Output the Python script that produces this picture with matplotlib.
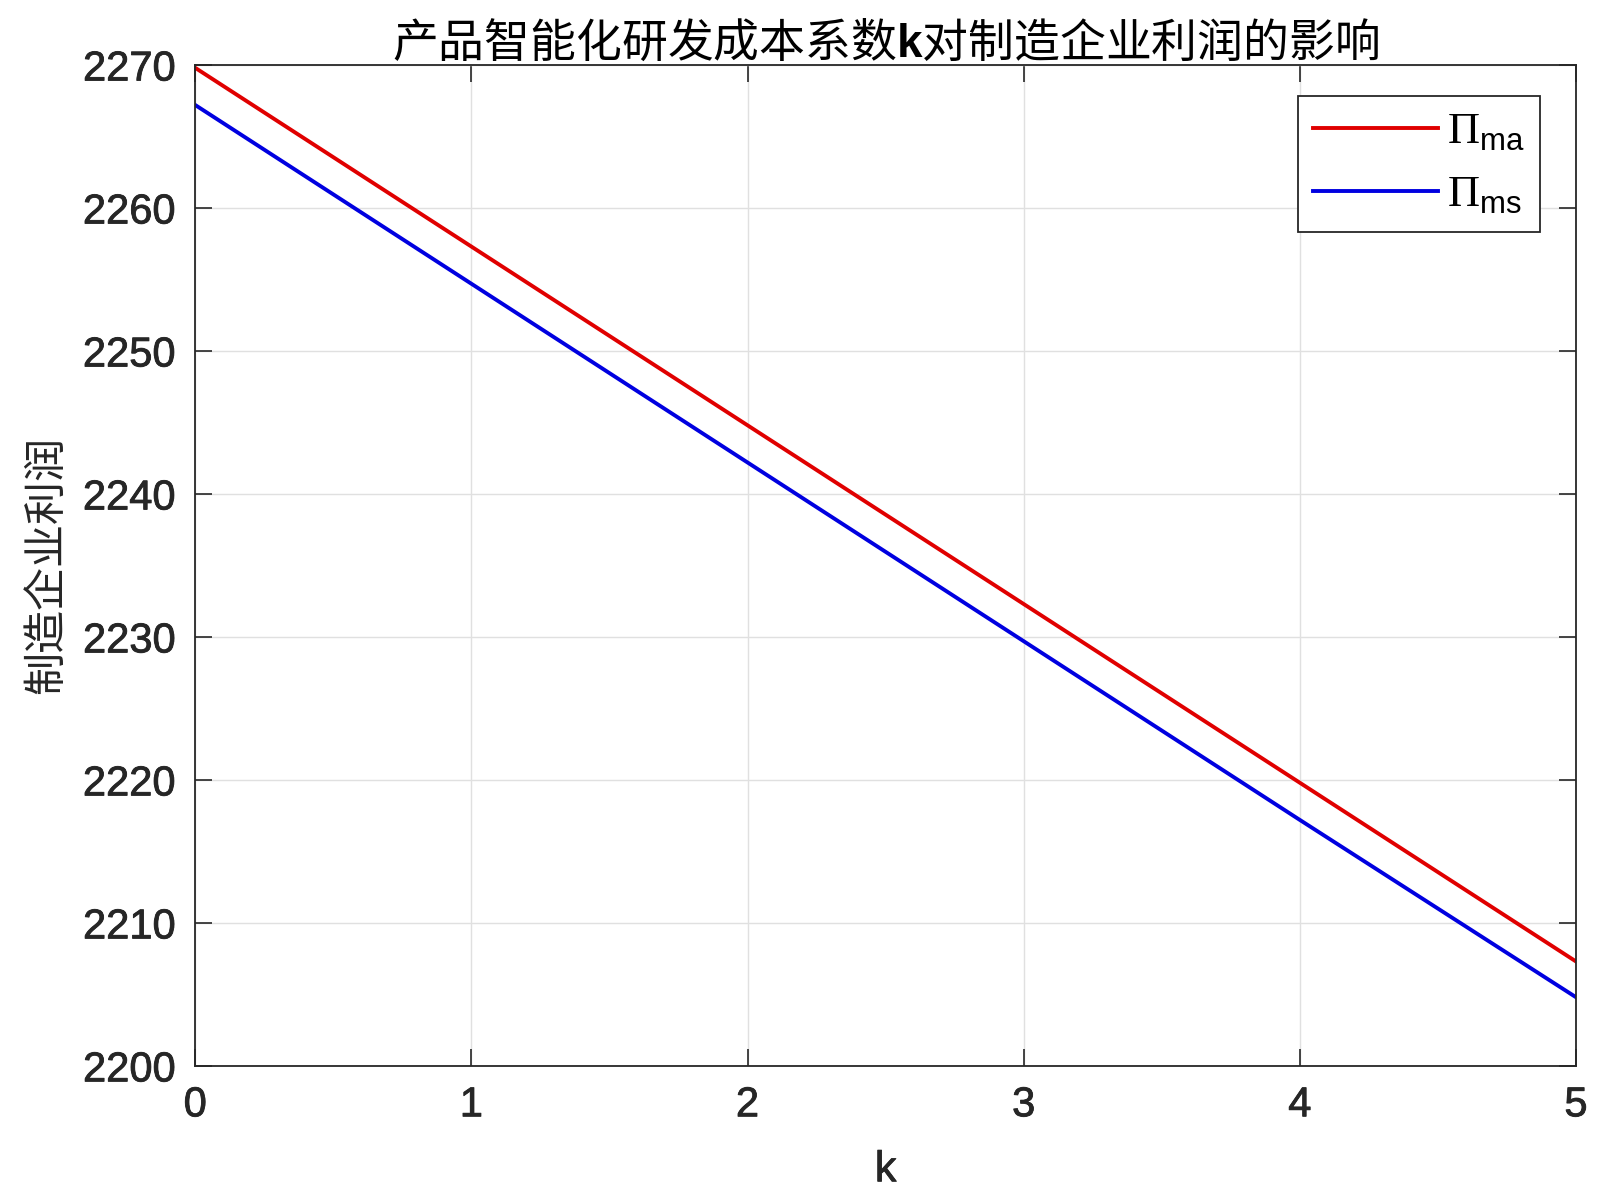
import matplotlib.pyplot as plt
import matplotlib.patheffects as pe

plt.rcParams['font.family'] = ['Liberation Sans', 'Noto Sans CJK SC', 'DejaVu Sans']
plt.rcParams['mathtext.fontset'] = 'custom'
plt.rcParams['mathtext.rm'] = 'Liberation Serif'
plt.rcParams['mathtext.sf'] = 'Liberation Sans'
plt.rcParams['mathtext.bf'] = 'Liberation Sans:bold'

# Data
k = [0, 1, 2, 3, 4, 5]
pi_ma = [2269.8, 2257.3, 2244.8, 2232.3, 2219.8, 2207.3]
pi_ms = [2267.2, 2254.7, 2242.2, 2229.7, 2217.2, 2204.8]
labels = [r'$\Pi_{\mathsf{ma}}$', r'$\Pi_{\mathsf{ms}}$']

axc = '#262626'
bold = [pe.withStroke(linewidth=0.6, foreground=axc)]
fig = plt.figure(figsize=(16, 12.03), dpi=100)
ax = fig.add_axes([0.122, 0.114, 0.863, 0.832])

ax.plot(k, pi_ma, color='#e00000', lw=2.8, label=labels[0])
ax.plot(k, pi_ms, color='#0000e0', lw=2.8, label=labels[1])

ax.set_xlim(0, 5)
ax.set_ylim(2200, 2270)
ax.set_xticks(range(0, 6))
ax.set_yticks(range(2200, 2271, 10))
ax.grid(True, color='#e0e0e0', lw=1.0)
ax.tick_params(direction='in', top=True, right=True, length=12, width=1.2,
               colors=axc, labelsize=30, pad=14)
plt.setp(ax.get_xticklabels() + ax.get_yticklabels(), path_effects=bold)
for s in ax.spines.values():
    s.set_color(axc)
    s.set_linewidth(1.3)

ax.set_xlabel('k', fontsize=31, color=axc, labelpad=18, path_effects=bold)
ax.set_ylabel('制造企业利润', fontsize=31, family=['Noto Sans CJK SC'],
              color=axc, labelpad=10)
ax.set_title(r'产品智能化研发成本系数$\mathbf{k}$对制造企业利润的影响', fontsize=33,
             family=['Noto Sans CJK SC', 'DejaVu Sans'], pad=6)

leg = ax.legend(loc='upper right', bbox_to_anchor=(0.974, 0.969), fontsize=32,
                handlelength=2.8, fancybox=False, framealpha=1,
                edgecolor=axc, borderpad=0.35, labelspacing=0.5,
                handletextpad=0.2, borderaxespad=0)
leg.get_frame().set_linewidth(1.3)

fig.savefig('out.png', dpi=100)
